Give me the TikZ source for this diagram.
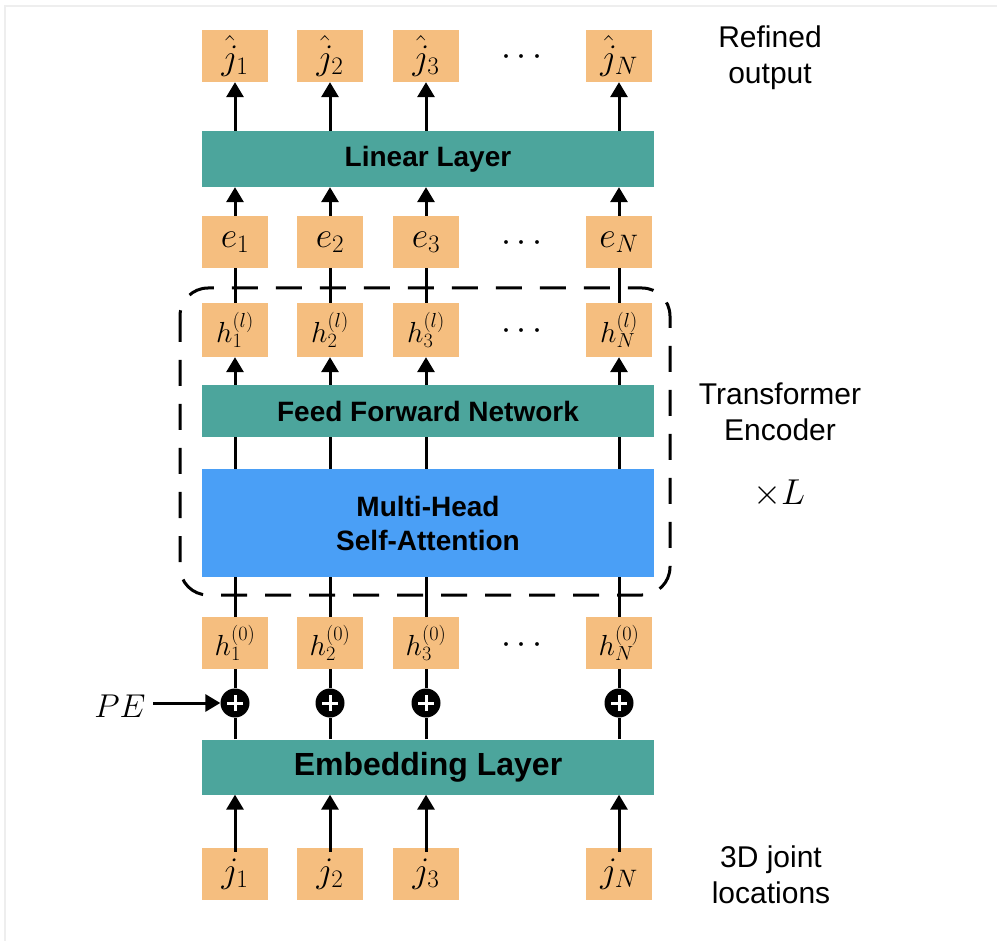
\documentclass[tikz,border=0pt]{standalone}
\usepackage{fix-cm}
\usepackage{fontspec}
\setmainfont{Liberation Sans}
\usetikzlibrary{arrows.meta}
\definecolor{boxorange}{HTML}{F5BE7F}
\definecolor{layerteal}{HTML}{4CA59C}
\definecolor{attnblue}{HTML}{4A9FF6}
\definecolor{framegray}{HTML}{EEEEEE}
\begin{document}
\begin{tikzpicture}[x=1pt,y=-1pt,
  tok/.style={fill=boxorange,minimum width=66pt,minimum height=52pt,inner sep=0pt,
    font=\fontsize{36}{36}\selectfont},
  htok/.style={tok,font=\fontsize{29}{29}\selectfont},
  layer/.style={fill=layerteal,minimum width=452pt,inner sep=0pt,
    font=\fontsize{28}{34}\bfseries\selectfont,align=center},
  dotsnode/.style={inner sep=0pt,font=\fontsize{36}{36}\selectfont},
  side/.style={align=center,inner sep=0pt,font=\fontsize{30}{36}\selectfont},
  conn/.style={line width=3pt},
  arr/.style={line width=3pt,-{Triangle[width=17pt,length=15pt]}},
  plus/.style={circle,fill=black,minimum size=29pt,inner sep=0pt}
]
\useasboundingbox (0,0) rectangle (997,941);
\fill[white] (0,0) rectangle (997,941);
\draw[framegray,line width=1.5pt] (5,941) -- (5,6) -- (997,6);

% columns
\def\ca{235}\def\cb{330}\def\cc{426}\def\cn{619}\def\cd{522}

% output row
\node[tok] (o1) at (\ca,56) {$\hat{j}_1$};
\node[tok] (o2) at (\cb,56) {$\hat{j}_2$};
\node[tok] (o3) at (\cc,56) {$\hat{j}_3$};
\node[dotsnode] (od) at (\cd,58) {$\cdots$};
\node[tok] (on) at (\cn,56) {$\hat{j}_N$};

\node[layer,minimum height=56pt] (lin) at (428,159) {Linear Layer};

% e row
\node[tok] (e1) at (\ca,242) {$e_1$};
\node[tok] (e2) at (\cb,242) {$e_2$};
\node[tok] (e3) at (\cc,242) {$e_3$};
\node[dotsnode] (ed) at (\cd,244) {$\cdots$};
\node[tok] (en) at (\cn,242) {$e_N$};

% h^(l) row
\node[htok,minimum height=54pt] (l1) at (\ca,330) {$h^{(l)}_1$};
\node[htok,minimum height=54pt] (l2) at (\cb,330) {$h^{(l)}_2$};
\node[htok,minimum height=54pt] (l3) at (\cc,330) {$h^{(l)}_3$};
\node[dotsnode] (ld) at (\cd,332) {$\cdots$};
\node[htok,minimum height=54pt] (ln) at (\cn,330) {$h^{(l)}_N$};

\node[layer,minimum height=52pt] (ffn) at (428,411) {Feed Forward Network};
\node[layer,fill=attnblue,minimum height=108pt] (mhsa) at (428,523) {Multi-Head\\Self-Attention};

% h^(0) row
\node[htok] (z1) at (\ca,643) {$h^{(0)}_1$};
\node[htok] (z2) at (\cb,643) {$h^{(0)}_2$};
\node[htok] (z3) at (\cc,643) {$h^{(0)}_3$};
\node[dotsnode] (zd) at (\cd,645) {$\cdots$};
\node[htok] (zn) at (\cn,643) {$h^{(0)}_N$};

% plus circles
\foreach \n/\x in {p1/\ca,p2/\cb,p3/\cc,pn/\cn}{
  \node[plus] (\n) at (\x,703) {};
  \draw[white,line width=3pt] ([xshift=-8pt]\n.center) -- ([xshift=8pt]\n.center)
    ([yshift=-8pt]\n.center) -- ([yshift=8pt]\n.center);
}

\node[layer,minimum height=55pt,font=\fontsize{32}{36}\bfseries\selectfont] (emb) at (428,767) {Embedding Layer};

% input row
\node[tok] (j1) at (\ca,874) {$j_1$};
\node[tok] (j2) at (\cb,874) {$j_2$};
\node[tok] (j3) at (\cc,874) {$j_3$};
\node[tok] (jn) at (\cn,874) {$j_N$};

% PE
\node[inner sep=0pt,font=\fontsize{33}{33}\selectfont] (pe) at (120,706) {$PE$};
\coordinate (pestart) at (153,703);
\draw[arr] (pestart) -- (p1.west);

% connectors
\foreach \c in {1,2,3,n}{
  \draw[arr] (lin.north -| o\c) -- (o\c.south);
  \draw[arr] (e\c.north) -- (lin.south -| e\c);
  \draw[conn] (l\c.north) -- (e\c.south);
  \draw[arr] (ffn.north -| l\c) -- (l\c.south);
  \draw[conn] (mhsa.north -| l\c) -- (ffn.south -| l\c);
  \draw[conn] (z\c.north) -- (mhsa.south -| z\c);
  \draw[conn] (p\c) -- (z\c.south);
  \draw[conn] (emb.north -| p\c) -- (p\c);
  \draw[arr] ([yshift=-4pt]j\c.north) -- (emb.south -| j\c);
}

% encoder frame
\draw[line width=3pt,dash pattern=on 26pt off 18pt,rounded corners=28pt]
  (180,288) rectangle (670,595);

% side labels
\node[side] (refined) at (770,58) {Refined\\output};
\node[side] (tenc) at (780,412) {Transformer\\Encoder};
\node[inner sep=0pt,font=\fontsize{36}{36}\selectfont] (times) at (779,494) {$\times L$};
\node[side] (joint) at (771,875) {3D joint\\locations};
\end{tikzpicture}
\end{document}
